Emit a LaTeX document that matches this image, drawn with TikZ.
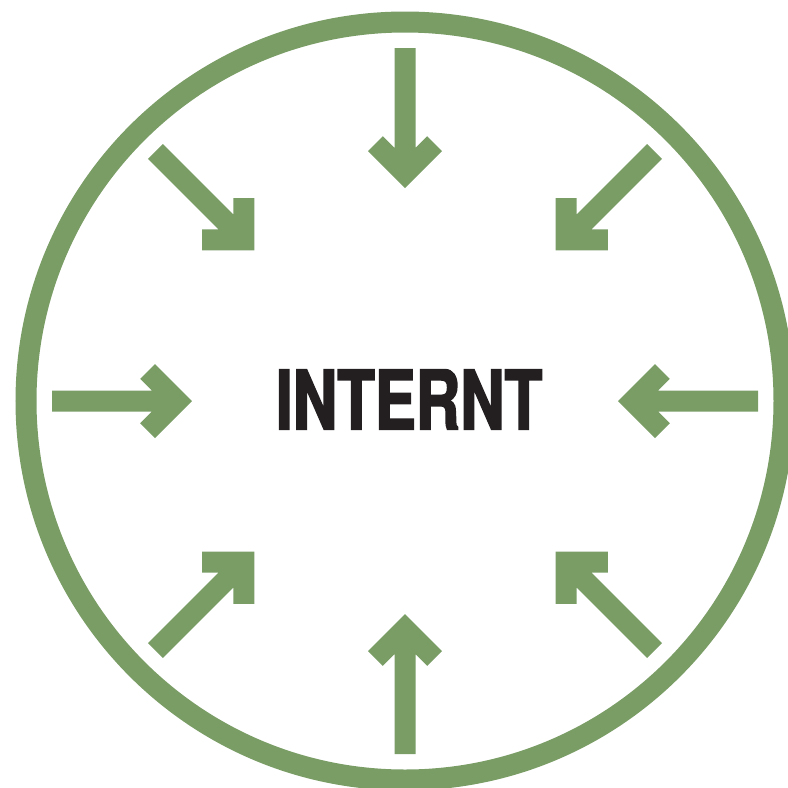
\documentclass[tikz,border=0pt]{standalone}
\usepackage{fontspec}
\newfontfamily\condfont{TeX Gyre Heros}[FakeStretch=0.75, FakeBold=2]
\usepackage{xcolor}
\definecolor{ringgreen}{RGB}{122,157,102}
\definecolor{wordblack}{RGB}{35,31,32}

\begin{document}
\begin{tikzpicture}[
  x=1pt, y=-1pt,
  ring/.style   ={draw=ringgreen, line width=21pt},
  inarrow/.style={fill=ringgreen},
  centerword/.style={inner sep=0pt, text=wordblack,
                  font=\condfont\bfseries\fontsize{82}{82}\selectfont}
]
\useasboundingbox (0,0) rectangle (788,788);
% ---- Ring ------------------------------------------------------------------
\coordinate (mid) at (405,401);
\draw[ring] (mid) circle[radius=379];
% ---- Arrows pointing inwards -----------------------------------------------
\foreach \ang in {0,45,...,315}
  \fill[inarrow, shift={(mid)}, rotate=\ang]
    (213,0) -- (250,-37) -- (264.85,-22.15) -- (253.2,-10.5) -- (353,-10.5)
    -- (353,10.5) -- (253.2,10.5) -- (264.85,22.15) -- (250,37) -- cycle;
% ---- Word ------------------------------------------------------------------
\node[centerword] (word) at (409,399.5) {INTERNT};
\end{tikzpicture}
\end{document}
